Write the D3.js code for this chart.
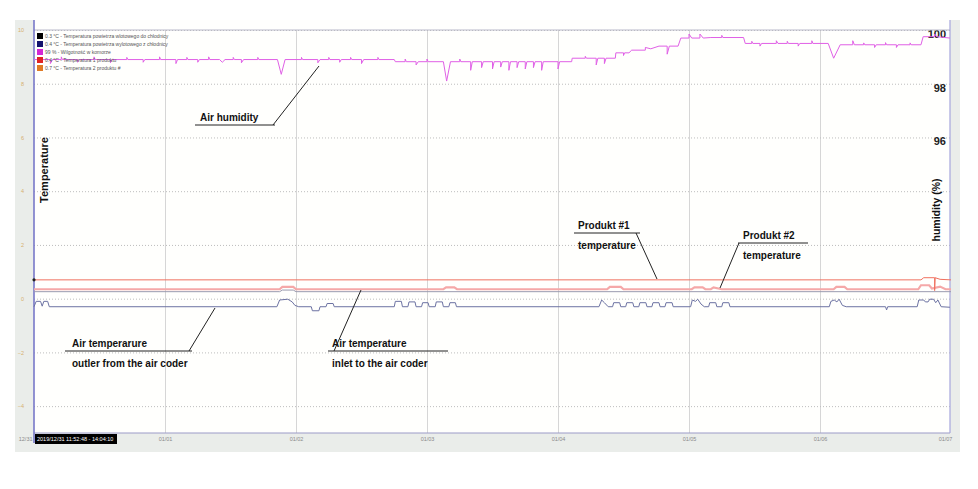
<!DOCTYPE html>
<html>
<head>
<meta charset="utf-8">
<script src="https://cdn.jsdelivr.net/npm/d3@7"></script>
<style>
  body { margin: 0; background: #ffffff; }
  svg { display: block; font-family: "Liberation Sans", Arial, sans-serif; }
</style>
</head>
<body>
<div id="container"></div>
<script>
/* CONSTANTS AND GLOBALS */
const width = 978,
  height = 489,
  margin = { top: 30, bottom: 56, left: 34, right: 28 };

const startTime = Date.UTC(2019, 11, 31),
  endTime = Date.UTC(2020, 0, 7);

/* DATA (hours from 12/31 00:00, value) */
const humidity = [
  [0, 98.9], [3, 98.9], [3, 98.75], [3.4, 98.9], [5, 98.9], [5, 99.0], [5.2, 98.9],
  [8, 98.9], [8, 98.8], [8.3, 98.9], [11, 98.9], [11, 99.0], [11.2, 98.9],
  [14, 98.9], [14, 98.78], [14.3, 98.9], [17, 98.9], [17, 98.98], [17.2, 98.9],
  [20, 98.9], [20, 98.8], [20.3, 98.9], [23, 98.9], [23, 99.0], [23.2, 98.9],
  [26, 98.9], [26, 98.75], [26.3, 98.9], [28, 98.9], [28, 98.98], [28.2, 98.9],
  [30, 98.9], [30, 98.8], [30.3, 98.9], [32, 98.9], [32, 99.0], [32.2, 98.9],
  [34, 98.9], [34.5, 98.8], [35, 98.9], [36.5, 98.9], [36.5, 98.98], [36.7, 98.9],
  [38, 98.9], [38, 98.78], [38.4, 98.9], [41, 98.9], [41, 98.98], [41.2, 98.9],
  [44.6, 98.9], [45.3, 98.35], [46, 98.9], [49, 98.9], [49, 98.98], [49.2, 98.9],
  [52, 98.9], [52, 98.78], [52.4, 98.9], [54, 98.9], [54, 98.98], [54.2, 98.9],
  [56, 98.9], [56, 98.8], [56.3, 98.9], [58, 98.9], [58, 98.98], [58.2, 98.9],
  [60, 98.9], [60, 98.75], [60.4, 98.9], [63, 98.9], [63, 98.98], [63.2, 98.9],
  [66, 98.9], [66.2, 98.82], [68, 98.82], [68, 98.92], [68.2, 98.82],
  [70, 98.82], [70, 98.7], [70.4, 98.82], [72, 98.82], [72, 98.92], [72.2, 98.82],
  [75, 98.82], [75.6, 98.1], [76.3, 98.82], [78, 98.82], [78, 98.92], [78.2, 98.82],
  [80, 98.82], [80, 98.5], [80.3, 98.82], [82, 98.82], [82, 98.6], [82.3, 98.82],
  [84, 98.82], [84, 98.55], [84.3, 98.82], [85.5, 98.82], [85.5, 98.62], [85.8, 98.82],
  [87, 98.82], [87, 98.5], [87.3, 98.82], [88.5, 98.82], [88.5, 98.6], [88.8, 98.82],
  [90, 98.82], [90, 98.55], [90.3, 98.82], [91.5, 98.82], [91.5, 98.6], [91.8, 98.82],
  [93, 98.82], [93, 98.5], [93.3, 98.82], [96, 98.82], [96, 98.55], [96.3, 98.82],
  [98.5, 98.82], [98.6, 98.95], [101, 98.95], [101, 99.02], [101.2, 98.95],
  [103, 98.95], [103, 98.7], [103.3, 98.95], [104.5, 98.95], [104.5, 98.75], [104.8, 98.95],
  [106.5, 98.95], [106.6, 99.15], [108, 99.15], [108, 99.05], [108.2, 99.15],
  [109, 99.15], [109.5, 99.25], [112, 99.25], [112, 99.35], [113, 99.3], [114.5, 99.4],
  [116, 99.4], [116, 99.1], [116.4, 99.4], [118, 99.4],
  [118.5, 99.7], [120, 99.7], [120, 99.85], [120.5, 99.7], [122, 99.7], [122, 99.85],
  [122.6, 99.7], [124, 99.72], [126, 99.72], [126, 99.8], [126.2, 99.72], [130, 99.72],
  [130.3, 99.5], [131.5, 99.5], [131.5, 99.58], [131.7, 99.5], [133, 99.5], [133, 99.4],
  [133.3, 99.5], [136, 99.5], [136, 99.6], [136.3, 99.5], [138, 99.5], [138, 99.58],
  [138.2, 99.5], [140, 99.5], [140, 99.4], [140.3, 99.5], [142.5, 99.5], [142.5, 99.6],
  [142.7, 99.5], [145.5, 99.5], [146.5, 98.95], [147.7, 99.45], [150, 99.45], [150, 99.6],
  [150.3, 99.45], [152, 99.45], [152, 99.52], [152.2, 99.45], [154, 99.45], [154, 99.35],
  [154.3, 99.45], [156, 99.45], [156, 99.53], [156.2, 99.45], [158, 99.45], [158, 99.35],
  [158.3, 99.45], [160.5, 99.45], [160.5, 99.52], [160.7, 99.45],
  [162.5, 99.45], [162.9, 99.75], [165, 99.75], [165, 99.85], [165.4, 99.75], [167.8, 99.7]
];

const product1 = [
  [0, 0.7], [162.5, 0.7], [163, 0.78], [165, 0.78], [165, 0.3], [165.1, 0.78], [166, 0.72], [168, 0.7]
];

const product2 = [
  [0, 0.35], [45, 0.35], [45.5, 0.44], [47.5, 0.44], [48, 0.35], [75, 0.35], [75.5, 0.42],
  [77, 0.42], [77.5, 0.35], [105, 0.35], [105.5, 0.44], [107.5, 0.44], [108, 0.35],
  [120.5, 0.35], [121, 0.42], [122.5, 0.42], [123, 0.35], [124, 0.35], [124.5, 0.42],
  [126, 0.35], [146.5, 0.35], [147, 0.44], [148.5, 0.44], [149, 0.35], [162, 0.35],
  [162.5, 0.5], [164, 0.5], [164.5, 0.38], [166, 0.45], [167, 0.35], [168, 0.35]
];

const inlet = [
  [0, 0.26], [45, 0.26], [45.5, 0.32], [47.5, 0.32], [48, 0.26], [168, 0.26]
];

const outlet = [
  [0, -0.3], [0.4, -0.1], [1.2, -0.1], [1.5, -0.28], [1.8, -0.1], [2.5, -0.1], [2.8, -0.3],
  [44.5, -0.3], [45, -0.05], [46.5, -0.02], [47.3, -0.12], [47.8, -0.25], [48.5, -0.3],
  [50.8, -0.3], [51, -0.45], [52.2, -0.45], [52.4, -0.3], [53.5, -0.3], [53.7, -0.18],
  [54.8, -0.18], [55, -0.3],
  [66, -0.3], [66.2, -0.1], [67.3, -0.1], [67.5, -0.3], [68.5, -0.3], [68.7, -0.12],
  [69.8, -0.12], [70, -0.3], [71, -0.3], [71.2, -0.15], [72.2, -0.15], [72.4, -0.3],
  [73.5, -0.3], [73.7, -0.12], [74.8, -0.12], [75, -0.3], [76, -0.3], [76.2, -0.15],
  [77.2, -0.15], [77.4, -0.3],
  [103.5, -0.3], [104, -0.05], [104.5, -0.15], [105.2, -0.3], [106, -0.3], [106.2, -0.15],
  [107.3, -0.15], [107.5, -0.3], [108.4, -0.3], [108.6, -0.15], [109.7, -0.15], [109.9, -0.3],
  [110.8, -0.3], [111, -0.15], [112.1, -0.15], [112.3, -0.3], [113.2, -0.3], [113.4, -0.15],
  [114.5, -0.15], [114.7, -0.3], [115.6, -0.3], [115.8, -0.15], [116.9, -0.15], [117.1, -0.3],
  [120.3, -0.3], [120.6, -0.05], [121.2, -0.1], [121.6, -0.02], [122.2, -0.2], [122.8, -0.3],
  [123.6, -0.3], [123.8, -0.15], [124.9, -0.15], [125.1, -0.3], [126, -0.3], [126.2, -0.15],
  [127.3, -0.15], [127.5, -0.3],
  [145.7, -0.3], [146, -0.1], [146.6, -0.05], [147.1, -0.12], [147.5, -0.02], [148.1, -0.25],
  [148.8, -0.3], [156, -0.3], [156.2, -0.42], [156.4, -0.3],
  [161.8, -0.3], [162.1, -0.05], [163, -0.05], [163.3, -0.12], [163.8, -0.12], [164.1, -0.02],
  [164.8, -0.02], [165.2, -0.15], [165.6, -0.05], [166.2, -0.3], [167.8, -0.32]
];

const tempTicks = [-4, -2, 0, 2, 4, 6, 8, 10];
const humidityTicks = [96, 98, 100];

const legendLabels = [
  "0.3 °C - Temperatura powietrza wlotowego do chłodnicy",
  "0.4 °C - Temperatura powietrza wylotowego z chłodnicy",
  "99 % - Wilgotność w komorze",
  "0.4 °C - Temperatura 1 produktu",
  "0.7 °C - Temperatura 2 produktu #"
];
const legendColors = ["#000000", "#14146e", "#d428d4", "#e02424", "#e07a24"];

const rangeLabel = "2019/12/31 11:52:48 - 14:04:10";

/* ANNOTATIONS */
const notes = [
  { lines: ["Air humidity"], x: 200, y: 121, under: [195, 275, 125], ptr: [273, 125, 319, 66] },
  { lines: ["Produkt #1", "temperature"], x: 578, y: 229, under: [574, 640, 233], ptr: [636, 233, 657, 279] },
  { lines: ["Produkt #2", "temperature"], x: 743, y: 239, under: [738, 808, 243], ptr: [739, 243, 720, 288] },
  { lines: ["Air temperarure", "outler from the air coder"], x: 72, y: 347, under: [65, 192, 351], ptr: [189, 351, 215, 308] },
  { lines: ["Air temperature", "inlet to the air coder"], x: 332, y: 347, under: [328, 448, 351], ptr: [334, 351, 361, 290] }
];

let svg, xScale, yTemp, yHum;

init();

function toPoint(d) {
  return { t: new Date(startTime + d[0] * 3600e3), v: d[1] };
}

function init() {
  xScale = d3.scaleUtc()
    .domain([new Date(startTime), new Date(endTime)])
    .range([margin.left, width - margin.right + 1]);

  yTemp = d3.scaleLinear()
    .domain([-5, 10])
    .range([height - margin.bottom, margin.top]);

  yHum = d3.scaleLinear()
    .domain([85, 100])
    .range([height - margin.bottom, margin.top]);

  svg = d3.select("#container")
    .append("svg")
    .attr("width", width)
    .attr("height", height);

  const plotL = margin.left, plotR = width - margin.right,
    plotT = margin.top, plotB = height - margin.bottom;

  // frame
  svg.append("rect")
    .attr("x", 15).attr("y", 20)
    .attr("width", 945).attr("height", 432)
    .attr("fill", "#eaedea");
  svg.append("rect")
    .attr("x", plotL).attr("y", 20)
    .attr("width", plotR - plotL).attr("height", plotB - 20)
    .attr("fill", "#fffffd");

  // vertical grid + date labels
  const xAxis = d3.axisBottom(xScale)
    .ticks(d3.utcDay.every(1))
    .tickFormat(d3.utcFormat("%m/%d"))
    .tickSize(-(plotB - plotT))
    .tickPadding(4);

  const gx = svg.append("g")
    .attr("transform", `translate(0,${plotB})`)
    .call(xAxis);
  gx.select(".domain").remove();
  gx.selectAll("line").attr("stroke", "#d6d6d6");
  gx.selectAll("text")
    .attr("fill", "#8a8a8a")
    .attr("font-size", 5.5);
  gx.selectAll(".tick").filter((d, i) => i === 0).select("line").remove();
  gx.selectAll(".tick").filter((d, i) => i === 0).select("text")
    .attr("text-anchor", "end").attr("dx", -2);
  gx.selectAll(".tick").filter((d, i, n) => i === n.length - 1).select("line").remove();
  gx.selectAll(".tick").filter((d, i, n) => i === n.length - 1).select("text")
    .attr("dx", -6);

  // horizontal dotted grid + left labels
  const yAxis = d3.axisLeft(yTemp)
    .tickValues(tempTicks)
    .tickFormat(d3.format("d"))
    .tickSize(-(plotR - plotL))
    .tickPadding(10);

  const gy = svg.append("g")
    .attr("transform", `translate(${plotL},0)`)
    .call(yAxis);
  gy.select(".domain").remove();
  gy.selectAll("line")
    .attr("stroke", "#bdbdbd")
    .attr("stroke-dasharray", "1,2");
  gy.selectAll("text")
    .attr("fill", "#d6b070")
    .attr("font-size", 5.5);

  // humidity labels on the right
  const hAxis = d3.axisLeft(yHum)
    .tickValues(humidityTicks)
    .tickSize(0)
    .tickPadding(2);
  const gh = svg.append("g")
    .attr("transform", `translate(${plotR - 2},4)`)
    .call(hAxis);
  gh.select(".domain").remove();
  gh.selectAll("text")
    .attr("fill", "#222")
    .attr("font-weight", "bold")
    .attr("font-size", 11);

  // borders
  svg.append("line").attr("x1", plotL).attr("x2", plotR).attr("y1", plotT).attr("y2", plotT)
    .attr("stroke", "#b8b8c8");
  svg.append("line").attr("x1", plotL).attr("x2", plotR).attr("y1", plotB).attr("y2", plotB)
    .attr("stroke", "#9c9cc8").attr("stroke-width", 1.2);
  svg.append("line").attr("x1", plotR).attr("x2", plotR).attr("y1", 20).attr("y2", plotB)
    .attr("stroke", "#a6a6dc").attr("stroke-width", 1.2);
  svg.append("line").attr("x1", plotL).attr("x2", plotL).attr("y1", 20).attr("y2", plotB + 10)
    .attr("stroke", "#7878c8").attr("stroke-width", 1.6);

  // series
  const tLine = d3.line().x(d => xScale(d.t)).y(d => yTemp(d.v));
  const hLine = d3.line().x(d => xScale(d.t)).y(d => yHum(d.v));

  const series = [
    { data: product2, color: "#f5a8a8", w: 2.2 },
    { data: inlet, color: "#9a9aae", w: 1 },
    { data: product1, color: "#f0705e", w: 1 },
    { data: outlet, color: "#6c72a2", w: 1 }
  ];

  svg.selectAll("path.temp")
    .data(series)
    .join("path")
    .attr("class", "temp")
    .attr("fill", "none")
    .attr("stroke", d => d.color)
    .attr("stroke-width", d => d.w)
    .attr("d", d => tLine(d.data.map(toPoint)));

  svg.append("path")
    .attr("fill", "none")
    .attr("stroke", "#e060e6")
    .attr("stroke-width", 1)
    .attr("d", hLine(humidity.map(toPoint)));

  // current value marker on the axis
  const p0 = toPoint(product1[0]);
  svg.append("circle")
    .attr("cx", xScale(p0.t)).attr("cy", yTemp(p0.v))
    .attr("r", 1.6).attr("fill", "#222");

  // legend
  const lg = svg.append("g").attr("transform", "translate(37,33)");
  const item = lg.selectAll("g")
    .data(legendLabels)
    .join("g")
    .attr("transform", (d, i) => `translate(0,${i * 8})`);
  item.append("rect")
    .attr("width", 6).attr("height", 6)
    .attr("fill", (d, i) => legendColors[i]);
  item.append("text")
    .attr("x", 8).attr("y", 5)
    .attr("font-size", 5)
    .attr("fill", "#555")
    .text(d => d);

  // axis titles
  svg.append("text")
    .attr("transform", `translate(48,170) rotate(-90)`)
    .attr("text-anchor", "middle")
    .attr("font-weight", "bold")
    .attr("font-size", 11)
    .attr("fill", "#111")
    .text("Temperature");
  svg.append("text")
    .attr("transform", `translate(940,210) rotate(-90)`)
    .attr("text-anchor", "middle")
    .attr("font-weight", "bold")
    .attr("font-size", 10.5)
    .attr("fill", "#111")
    .text("humidity (%)");

  // time range box
  svg.append("rect")
    .attr("x", 35).attr("y", plotB + 1)
    .attr("width", 82).attr("height", 10)
    .attr("fill", "#000");
  svg.append("text")
    .attr("x", 37).attr("y", plotB + 8)
    .attr("font-size", 5.5)
    .attr("fill", "#fff")
    .text(rangeLabel);

  // annotations
  const ng = svg.selectAll("g.note")
    .data(notes)
    .join("g")
    .attr("class", "note");
  ng.each(function (d) {
    const g = d3.select(this);
    d.lines.forEach((t, i) => {
      g.append("text")
        .attr("x", d.x).attr("y", d.y + i * 20)
        .attr("font-size", 10)
        .attr("font-weight", "bold")
        .attr("fill", "#111")
        .text(t);
    });
    g.append("line")
      .attr("x1", d.under[0]).attr("x2", d.under[1])
      .attr("y1", d.under[2]).attr("y2", d.under[2])
      .attr("stroke", "#222").attr("stroke-width", 1);
    g.append("line")
      .attr("x1", d.ptr[0]).attr("y1", d.ptr[1])
      .attr("x2", d.ptr[2]).attr("y2", d.ptr[3])
      .attr("stroke", "#222").attr("stroke-width", 1);
  });
}
</script>
</body>
</html>
